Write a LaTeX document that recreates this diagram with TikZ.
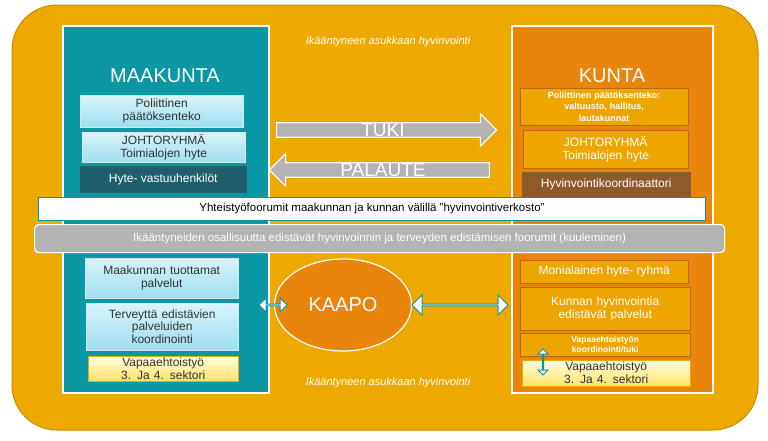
\documentclass[tikz,border=0pt]{standalone}
\usepackage{fontspec}
\setmainfont{Liberation Sans}
\usetikzlibrary{shapes.geometric,shapes.arrows,positioning}
\definecolor{gold}{HTML}{EEA900}
\definecolor{goldline}{HTML}{C88C00}
\definecolor{teal}{HTML}{0B97A3}
\definecolor{darkteal}{HTML}{1F5F6B}
\definecolor{kunta}{HTML}{E8850A}
\definecolor{brownbox}{HTML}{8E5A2A}
\definecolor{lightcyan}{HTML}{D8F4FA}
\definecolor{midcyan}{HTML}{9EDFEE}
\definecolor{greybar}{HTML}{B3B3B3}
\tikzset
{
    panel/.style = {draw=white, line width=1.5pt, anchor=north west},
    cyanbox/.style = {anchor=north west, top color=lightcyan, bottom color=midcyan, draw=white!80!teal, align=center, font=\fontsize{12}{13}\selectfont, text=black!80, inner sep=0pt},
    goldbox/.style = {anchor=north west, fill=gold!90!kunta, draw=kunta!80!black, align=center, font=\fontsize{12}{13}\selectfont, text=white, inner sep=0pt},
    volbox/.style = {anchor=north west, top color=white!70!yellow!40, bottom color=yellow!60!orange!60, draw=gold, align=center, font=\fontsize{12}{13}\selectfont, text=black!80, inner sep=0pt},
    bigarrow/.style = {single arrow, fill=greybar, draw=white, line width=1.2pt, minimum height=220pt, minimum width=24pt, single arrow head extend=9pt, inner sep=0pt, text=white, font=\fontsize{19}{19}\selectfont},
    dblarrow/.style = {double arrow, fill=white, draw=teal, line width=1pt, inner sep=0pt, double arrow head extend=4pt},
    heading/.style = {text=white, font=\fontsize{20}{20}\selectfont},
    motto/.style = {text=white, font=\itshape\fontsize{11}{11}\selectfont}
}
\begin{document}
\begin{tikzpicture}[x=1pt,y=-1pt]
\useasboundingbox (0,0) rectangle (768,440);
\fill[white] (0,0) rectangle (768,440);
% outer frame
\draw[fill=gold, draw=goldline, line width=1pt, rounded corners=45pt] (12,5) rectangle (758,430);
% panels
\node (maakunta) [panel, fill=teal, minimum width=206pt, minimum height=367pt] at (62,25) {};
\node (kunta) [panel, fill=kunta, minimum width=201pt, minimum height=367pt] at (511,25) {};
\node (motto1) [motto] at (388,42) {Ikääntyneen asukkaan hyvinvointi};
\node (motto2) [motto] at (388,383) {Ikääntyneen asukkaan hyvinvointi};
\node (mhead) [heading] at (165,76) {MAAKUNTA};
\node (khead) [heading] at (612,76) {KUNTA};
% maakunta, upper
\node (mpol) [cyanbox, minimum width=163pt, minimum height=32pt, text width=160pt] at (80,95) {Poliittinen\\päätöksenteko};
\node (mjohto) [cyanbox, minimum width=163pt, minimum height=30pt, text width=160pt] at (82,132) {JOHTORYHMÄ\\Toimialojen hyte};
\node (mhyte) [cyanbox, top color=darkteal, bottom color=darkteal, draw=darkteal, text=white, minimum width=166pt, minimum height=26pt] at (80,166) {Hyte- vastuuhenkilöt};
% kunta, upper
\node (kpol) [goldbox, minimum width=168pt, minimum height=37pt, text width=165pt, font=\bfseries\fontsize{9}{11.5}\selectfont] at (520,88) {Poliittinen päätöksenteko:\\valtuusto, hallitus,\\lautakunnat};
\node (kjohto) [goldbox, minimum width=165pt, minimum height=38pt, text width=160pt] at (523,130) {JOHTORYHMÄ\\Toimialojen hyte};
\node (kkoord) [goldbox, fill=brownbox, draw=brownbox, minimum width=168pt, minimum height=25pt] at (522,172) {Hyvinvointikoordinaattori};
% arrows between
\node (tuki) [bigarrow] at (383,130) {TUKI};
\node (palaute) [bigarrow, shape border rotate=180] at (383,170) {PALAUTE};
% forum bars
\node (yhteis) [anchor=north west, fill=white, draw=teal, line width=1pt, minimum width=667pt, minimum height=23pt, inner sep=0pt, font=\fontsize{11.5}{12}\selectfont] at (38,197) {Yhteistyöfoorumit maakunnan ja kunnan välillä ”hyvinvointiverkosto”};
\node (ikaant) [anchor=north west, fill=greybar, draw=white, line width=1.2pt, rounded corners=4pt, minimum width=690pt, minimum height=28pt, inner sep=0pt, text=white, font=\fontsize{11.5}{12}\selectfont] at (34,224) {Ikääntyneiden osallisuutta edistävät hyvinvoinnin ja terveyden edistämisen foorumit (kuuleminen)};
% maakunta, lower
\node (mtuot) [cyanbox, minimum width=153pt, minimum height=40pt, text width=150pt] at (85,258) {Maakunnan tuottamat\\palvelut};
\node (mterv) [cyanbox, minimum width=152pt, minimum height=47pt, text width=150pt, font=\fontsize{12}{12.5}\selectfont] at (86,303) {Terveyttä edistävien\\palveluiden\\koordinointi};
\node (mvapaa) [volbox, minimum width=150pt, minimum height=25pt, text width=148pt] at (88,356) {Vapaaehtoistyö\\3. Ja 4. sektori};
% kaapo
\node (kaapo) [ellipse, fill=kunta, draw=white, line width=1.2pt, minimum width=137pt, minimum height=92pt, text=white, font=\fontsize{20}{20}\selectfont] at (343,305) {KAAPO};
% kunta, lower
\node (kmoni) [goldbox, minimum width=168pt, minimum height=23pt] at (520,260) {Monialainen hyte- ryhmä};
\node (kpalv) [goldbox, minimum width=170pt, minimum height=43pt, text width=165pt] at (520,287) {Kunnan hyvinvointia\\edistävät palvelut};
\node (kvapkoord) [goldbox, minimum width=170pt, minimum height=23pt, text width=165pt, font=\bfseries\fontsize{8.5}{10.5}\selectfont] at (520,333) {Vapaaehtoistyön\\koordinointi/tuki};
\node (kvapaa) [volbox, minimum width=168pt, minimum height=26pt, text width=165pt] at (522,360) {Vapaaehtoistyö\\3. Ja 4. sektori};
% double arrows
\node (dleft) [dblarrow, minimum height=28pt, minimum width=14pt] at (273,305) {};
\node (dright) [dblarrow, minimum height=96pt, minimum width=20pt, double arrow head extend=5pt] at (460,305) {};
\node (dvert) [dblarrow, shape border rotate=90, minimum height=26pt, minimum width=10pt, double arrow head extend=3pt] at (543,362) {};
\end{tikzpicture}
\end{document}
